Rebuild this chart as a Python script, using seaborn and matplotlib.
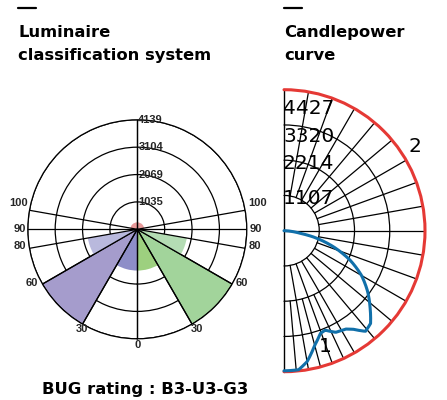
import matplotlib
matplotlib.use("Agg")
import matplotlib.pyplot as plt
from matplotlib.lines import Line2D
import numpy as np
import pandas as pd
import seaborn as sns

# --- BUG (luminaire classification) chart, angles from nadir in degrees ---
bug_rings = [1035, 2069, 3104, 4139]
bug_angle_labels = [0, 30, 60, 80, 90, 100]
bug_zones = [(0, 30), (30, 60), (60, 80)]          # low / mid / high
back_values = [1560, 4139, 1900]                    # purple, left side
front_values = [1560, 4139, 1900]                   # green, right side
uplight_value = 290
bug_rating = "BUG rating : B3-U3-G3"

# --- candlepower curve ---
cp_rings = [1107, 2214, 3320, 4427]
cp_angle = [0, 6, 10, 15, 19.5, 22.5, 27, 32, 35, 39, 43, 48, 54, 60, 66, 72, 78, 81, 85, 90]
cp_value = [4400, 4390, 4175, 3725, 3420, 3380, 3580, 3640, 3775, 4065, 3985, 3640,
            3245, 2810, 2270, 1630, 940, 510, 220, 0]
cp2_angle = [0, 180]
cp2_value = [4427, 4427]

back_colors = ["#8e8ec8", "#a59ccc", "#b9b9dd"]
front_colors = ["#9dd07f", "#a2d49b", "#b4dcb4"]
up_color = "#e89a9a"
blue = "#1170aa"
red = "#e53935"

W, H = 447, 400


def fx(x):
    return x / W


def fy(y):
    return 1 - y / H


def arcify(line):
    # let the polar transform draw the segment along theta instead of as a chord
    line.get_path()._interpolation_steps = 180


sns.set_theme(style="white")
plt.rcParams["font.family"] = ["DejaVu Sans"]

fig = plt.figure(figsize=(W / 100, H / 100), dpi=100)
fig.patch.set_facecolor("white")

# ---------------- BUG chart ----------------
ax = fig.add_axes([fx(27.8), fy(338.8), 219 / W, 219 / H], projection="polar")
ax.set_theta_zero_location("S")
ax.set_theta_direction(1)
ax.set_rlim(0, bug_rings[-1])

for (lo, hi), v, c in zip(bug_zones, front_values, front_colors):
    mid = np.deg2rad((lo + hi) / 2)
    edge = "black" if v >= bug_rings[-1] else "none"
    ax.bar(mid, v, width=np.deg2rad(hi - lo), bottom=0, color=c, edgecolor=edge,
           linewidth=0.9, zorder=1)
for (lo, hi), v, c in zip(bug_zones, back_values, back_colors):
    mid = -np.deg2rad((lo + hi) / 2)
    edge = "black" if v >= bug_rings[-1] else "none"
    ax.bar(mid, v, width=np.deg2rad(hi - lo), bottom=0, color=c, edgecolor=edge,
           linewidth=0.9, zorder=1)
ax.bar(np.pi, uplight_value, width=np.pi, bottom=0, color=up_color, zorder=1)

ax.set_rticks(bug_rings)
ax.set_yticklabels([])
ax.set_xticks([])
ax.yaxis.grid(True, color="black", linewidth=0.9)
ax.xaxis.grid(False)
ax.spines["polar"].set_color("black")
ax.spines["polar"].set_linewidth(0.9)
for a in bug_angle_labels + [180]:
    for s in (1, -1):
        t = np.deg2rad(s * a)
        ax.plot([t, t], [0, bug_rings[-1]], color="black", lw=0.9, zorder=3)

lab_font = dict(family="Liberation Sans", weight="bold", fontsize=8)
for r in bug_rings:
    ax.annotate(str(r), (np.pi, r), xytext=(1, 0), textcoords="offset pixels",
                ha="left", va="center", zorder=4, **lab_font)

offsets = {0: ((0, -6), (0, -6)), 30: ((-1, -5), (5, -5)), 60: ((-4, 1), (3, 1)),
           80: ((-3, 2), (3, 2)), 90: ((-2, 0), (3, 0)), 100: ((-2, 7), (3, 7))}
for a in bug_angle_labels:
    left_off, right_off = offsets[a]
    if a == 0:
        ax.annotate("0", (0, bug_rings[-1]), xytext=left_off, textcoords="offset pixels",
                    ha="center", va="center", annotation_clip=False, **lab_font)
        continue
    ha_l, ha_r = ("center", "center") if a == 30 else ("right", "left")
    ax.annotate(str(a), (np.deg2rad(-a), bug_rings[-1]), xytext=left_off,
                textcoords="offset pixels", ha=ha_l, va="center",
                annotation_clip=False, **lab_font)
    ax.annotate(str(a), (np.deg2rad(a), bug_rings[-1]), xytext=right_off,
                textcoords="offset pixels", ha=ha_r, va="center",
                annotation_clip=False, **lab_font)

# ---------------- candlepower curve (right half of a full polar) ----------------
R0 = 141
cx = fig.add_axes([fx(284 - R0), fy(230.7 + R0), 2 * R0 / W, 2 * R0 / H], projection="polar")
cx.patch.set_visible(False)
cx.set_theta_zero_location("S")
cx.set_theta_direction(1)
cx.set_rlim(0, cp_rings[-1])
cx.grid(False)
cx.set_xticks([])
cx.set_yticks([])
cx.spines["polar"].set_visible(False)

for r in cp_rings[:-1]:
    ring, = cx.plot([0, np.pi], [r, r], color="black", lw=0.9, zorder=1)
    arcify(ring)
for t in (0, np.pi):
    cx.plot([t, t], [0, cp_rings[-1]], color="black", lw=1.0, zorder=1, clip_on=False)
for a in range(10, 180, 10):
    t = np.deg2rad(a)
    r0 = 0 if a == 90 else cp_rings[0]
    cx.plot([t, t], [r0, cp_rings[-1]], color="black", lw=0.9, zorder=1)
for a in (5, 15, 25):
    t = np.deg2rad(a)
    cx.plot([t, t], [cp_rings[1], cp_rings[-1]], color="black", lw=0.9, zorder=1)

df1 = pd.DataFrame({"theta": np.deg2rad(cp_angle), "cd": cp_value})
df2 = pd.DataFrame({"theta": np.deg2rad(cp2_angle), "cd": cp2_value})
sns.lineplot(data=df2, x="theta", y="cd", ax=cx, color=red, lw=2.2, sort=False)
sns.lineplot(data=df1, x="theta", y="cd", ax=cx, color=blue, lw=2.2, sort=False)
for ln in cx.lines[-2:]:
    ln.set_clip_on(False)
    ln.set_zorder(5)
    arcify(ln)
cx.set(xlabel="", ylabel="")
cx.set_rlim(0, cp_rings[-1])

big = dict(family="DejaVu Sans", fontsize=14.5, color="black")
for lab, y in zip(cp_rings[::-1], [109, 136, 164, 198]):
    fig.text(fx(283), fy(y), str(lab), ha="left", va="center", **big)
fig.text(fx(415), fy(147), "2", ha="center", va="center", **big)
fig.text(fx(325), fy(347), "1", ha="center", va="center", **big)

# ---------------- titles ----------------
title_font = dict(family="DejaVu Sans", weight="bold", fontsize=11.8, color="black")
for x0 in (18, 284):
    fig.add_artist(Line2D([fx(x0), fx(x0 + 18)], [fy(7.5), fy(7.5)], color="black", lw=1.6))
fig.text(fx(18), fy(37), "Luminaire", va="baseline", **title_font)
fig.text(fx(18), fy(60), "classification system", va="baseline", **title_font)
fig.text(fx(284), fy(37), "Candlepower", va="baseline", **title_font)
fig.text(fx(284), fy(60), "curve", va="baseline", **title_font)
fig.text(fx(145), fy(394), bug_rating, ha="center", va="baseline", **title_font)

fig.savefig("out.png", dpi=100)
